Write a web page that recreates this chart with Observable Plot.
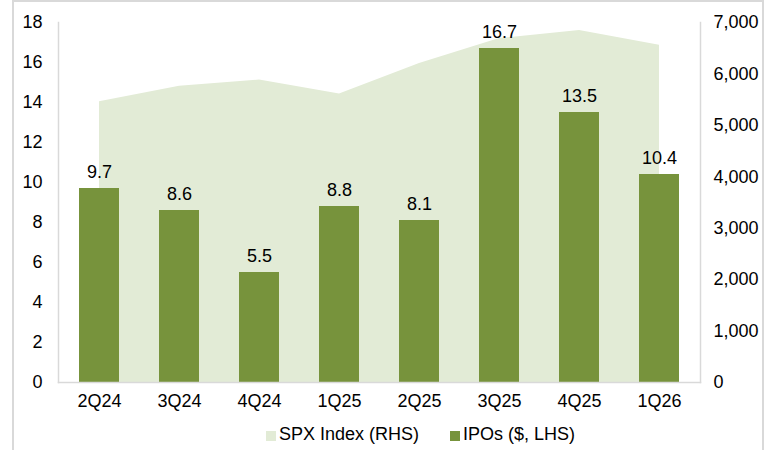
<!DOCTYPE html>
<html><head><meta charset="utf-8">
<script src="https://cdn.jsdelivr.net/npm/d3@7"></script>
<script src="https://cdn.jsdelivr.net/npm/@observablehq/plot@0.6"></script>
<style>
html,body{margin:0;padding:0;background:#fff;}
body{width:778px;height:450px;overflow:hidden;position:relative;font-family:"Liberation Sans",Arial,sans-serif;}
#border{position:absolute;left:12px;top:0;width:752px;height:460px;border:2px solid #d9d9d9;border-bottom:none;box-sizing:border-box;}
#chart{position:absolute;left:0;top:0;}
#legend{position:absolute;left:0;top:423px;width:778px;height:26px;font-size:18px;color:#000;}
.sw{position:absolute;width:10px;height:10px;top:8px;}
.lt{position:absolute;top:1px;white-space:nowrap;}
</style></head>
<body>
<div id="border"></div>
<div id="chart"></div>
<div id="legend">
  <div class="sw" style="left:266px;background:#E2EBD6"></div><div class="lt" style="left:279px">SPX Index (RHS)</div>
  <div class="sw" style="left:450px;background:#77933C"></div><div class="lt" style="left:463px">IPOs ($, LHS)</div>
</div>
<script>
const quarters = ["2Q24","3Q24","4Q24","1Q25","2Q25","3Q25","4Q25","1Q26"];
const ipos = [9.7, 8.6, 5.5, 8.8, 8.1, 16.7, 13.5, 10.4];
const spx = [5460, 5762, 5881, 5611, 6205, 6688, 6845, 6560];
const leftTicks = [0,2,4,6,8,10,12,14,16,18];
const rightTicks = [0,1000,2000,3000,4000,5000,6000,7000];
const leftMax = 18, rightMax = 7000;

const rows = quarters.map((q,i)=>({q, ipo: ipos[i], spx: spx[i], spxScaled: spx[i]*leftMax/rightMax}));
const fmt = d3.format(",");

const chart = Plot.plot({
  width: 778,
  height: 420,
  marginLeft: 58,
  marginRight: 78,
  marginTop: 22,
  marginBottom: 38,
  style: {fontFamily: '"Liberation Sans", Arial, sans-serif', fontSize: "18px", color: "#000", background: "transparent"},
  x: {type: "band", domain: quarters, paddingInner: 0.5, paddingOuter: 0.25, align: 0.5, label: null},
  y: {domain: [0, leftMax], label: null},
  marks: [
    Plot.areaY(rows, {x: "q", y: "spxScaled", fill: "#E2EBD6"}),
    Plot.barY(rows, {x: "q", y: "ipo", fill: "#77933C"}),
    Plot.text(rows, {x: "q", y: "ipo", text: d => d.ipo.toFixed(1), lineAnchor: "bottom", dy: -11, fontSize: 18, fill: "#000"}),
    Plot.frame({anchor: "left", stroke: "#d9d9d9", strokeWidth: 1.5}),
    Plot.frame({anchor: "right", stroke: "#d9d9d9", strokeWidth: 1.5}),
    Plot.frame({anchor: "bottom", stroke: "#d9d9d9", strokeWidth: 1.5}),
    Plot.axisY({anchor: "left", ticks: leftTicks, tickSize: 0, tickPadding: 16, label: null, fontSize: 18}),
    Plot.axisY(rightTicks.map(v => v*leftMax/rightMax), {anchor: "right", tickSize: 0, tickPadding: 13, textAnchor: "start", label: null, fontSize: 18, tickFormat: (d, i) => fmt(rightTicks[i])}),
    Plot.axisX({anchor: "bottom", tickSize: 0, tickPadding: 12, label: null, fontSize: 18})
  ]
});
document.getElementById("chart").appendChild(chart);
</script>
</body></html>
